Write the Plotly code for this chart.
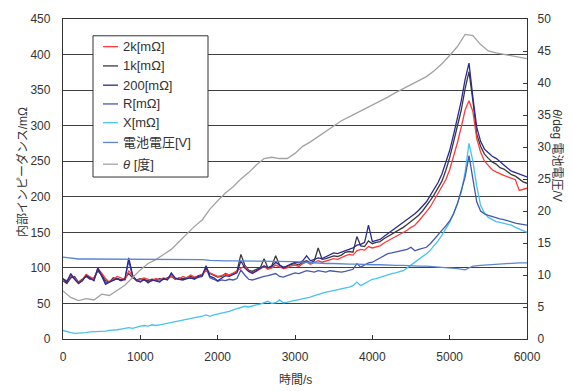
import plotly.graph_objects as go

# ---- data ----------------------------------------------------------------
time_s = list(range(0, 6001, 50))          # impedance sampling times [s]
time_coarse = list(range(0, 6001, 100))    # voltage / temperature sampling times [s]

z_2k = [84, 80, 90, 86, 79, 83, 91, 88, 84, 99, 93, 85, 80, 84, 88, 86, 83, 96, 88, 82,
        84, 86, 84, 82, 85, 83, 86, 84, 88, 85, 84, 88, 86, 90, 87, 88, 91, 96, 93, 90,
        88, 89, 91, 90, 92, 96, 100, 103, 96, 93, 95, 99, 102, 98, 100, 104, 101, 99, 100, 103,
        104, 102, 106, 108, 105, 107, 110, 108, 110, 112, 113, 112, 115, 117, 119, 118, 124, 126, 125, 130,
        128, 130, 131, 135, 138, 141, 143, 147, 150, 153, 157, 160, 166, 172, 179, 186, 195, 204, 213, 224,
        238, 256, 276, 298, 322, 335, 320, 282, 263, 250, 244, 238, 235, 232, 230, 228, 226, 224, 209, 210,
        212]

z_1k = [82, 78, 86, 88, 80, 84, 88, 84, 86, 96, 90, 82, 80, 86, 84, 83, 85, 92, 86, 83,
        85, 84, 82, 84, 83, 85, 84, 86, 88, 84, 86, 85, 87, 88, 86, 89, 90, 100, 92, 90,
        87, 88, 92, 90, 93, 95, 119, 104, 97, 95, 98, 100, 113, 100, 103, 117, 104, 101, 102, 105,
        106, 104, 108, 110, 107, 110, 128, 112, 113, 115, 117, 116, 118, 122, 123, 122, 144, 131, 130, 138,
        134, 136, 137, 141, 144, 147, 150, 153, 157, 161, 165, 169, 174, 180, 187, 195, 203, 212, 222, 237,
        255, 277, 300, 322, 352, 376, 335, 288, 271, 260, 254, 249, 246, 241, 239, 235, 231, 229, 225, 221,
        219]

z_200 = [85, 80, 92, 84, 78, 82, 89, 86, 82, 100, 88, 77, 80, 82, 85, 82, 84, 114, 90, 82,
         80, 84, 79, 83, 82, 80, 85, 83, 93, 86, 84, 83, 85, 86, 84, 88, 89, 103, 88, 86,
         82, 85, 89, 88, 90, 93, 110, 100, 95, 92, 96, 99, 103, 100, 102, 108, 104, 100, 103, 106,
         108, 107, 110, 117, 110, 112, 114, 113, 116, 118, 121, 120, 122, 124, 126, 128, 132, 133, 136, 160,
         137, 138, 140, 144, 148, 151, 155, 159, 163, 167, 171, 176, 181, 187, 193, 202, 211, 220, 232, 247,
         265, 287, 312, 335, 365, 388, 340, 298, 278, 267, 262, 257, 254, 249, 244, 240, 236, 234, 231, 229,
         228]

z_r = [84, 82, 88, 85, 80, 82, 90, 86, 83, 97, 90, 79, 81, 83, 85, 83, 84, 110, 88, 83,
       81, 83, 80, 82, 83, 81, 84, 84, 91, 85, 84, 84, 85, 86, 85, 87, 88, 100, 86, 84,
       81, 83, 82, 84, 83, 85, 97, 90, 84, 83, 85, 87, 88, 89, 91, 92, 88, 87, 89, 91,
       93, 92, 94, 96, 95, 94, 96, 95, 94, 96, 95, 94, 94, 95, 96, 98, 106, 101, 104, 107,
       108, 111, 114, 117, 120, 121, 122, 123, 124, 126, 129, 124, 126, 127, 129, 134, 140, 146, 152, 159,
       166, 176, 190, 208, 228, 258, 222, 193, 180, 176, 174, 172, 171, 169, 168, 166, 165, 163, 162, 161,
       160]

z_x = [12, 10, 9, 8, 8, 9, 9, 10, 10, 11, 10, 11, 12, 12, 13, 14, 15, 16, 15, 17,
       18, 19, 18, 20, 19, 20, 21, 22, 23, 24, 25, 26, 27, 28, 29, 31, 32, 34, 32, 34,
       35, 36, 38, 39, 41, 43, 44, 46, 45, 47, 48, 49, 51, 53, 50, 51, 55, 51, 52, 53,
       55, 56, 57, 58, 59, 61, 63, 64, 66, 67, 68, 69, 70, 71, 73, 75, 80, 75, 78, 82,
       84, 85, 87, 89, 90, 92, 93, 94, 96, 100, 104, 107, 111, 116, 120, 125, 131, 138, 146, 155,
       164, 176, 192, 206, 235, 275, 250, 215, 188, 177, 171, 168, 165, 164, 163, 162, 160, 157, 155, 152,
       150]

voltage_v = [12.8, 12.6, 12.5, 12.5, 12.5, 12.5, 12.5, 12.5, 12.5, 12.5,
             12.5, 12.5, 12.5, 12.5, 12.5, 12.5, 12.4, 12.4, 12.4, 12.3,
             12.2, 12.2, 12.2, 12.2, 12.2, 12.2, 12.2, 12.2, 12.2, 12.2,
             12.1, 12.0, 11.9, 11.8, 11.8, 11.8, 11.7, 11.7, 11.7, 11.6,
             11.6, 11.6, 11.5, 11.5, 11.5, 11.4, 11.4, 11.4, 11.3, 11.3,
             11.2, 11.0, 10.8, 11.4, 11.5, 11.6, 11.7, 11.8, 11.9, 11.9,
             11.9]

theta_deg = [7.5, 6.5, 6.0, 6.3, 6.1, 7.0, 6.8, 7.6, 8.4, 9.6,
             10.8, 11.8, 12.4, 13.2, 14.0, 15.2, 16.4, 17.6, 18.6, 20.3,
             21.6, 22.8, 23.8, 25.0, 26.0, 27.2, 28.2, 28.4, 28.2, 28.2,
             29.0, 30.1, 30.8, 31.6, 32.4, 33.3, 34.1, 34.7, 35.3, 35.9,
             36.6, 37.2, 37.8, 38.5, 39.1, 39.7, 40.3, 41.0, 41.9, 43.0,
             44.3, 45.7, 47.6, 47.4, 46.0, 45.0, 44.7, 44.5, 44.3, 44.1,
             43.8]

# ---- styling ---------------------------------------------------------------
W, H = 572, 391
ML, MR, MT, MB = 63, 45, 15, 52
FONT = "Liberation Sans, Noto Sans CJK JP, sans-serif"
TXT = "#333333"

series = [
    ("2k[mΩ]", time_s, z_2k, "#ff3b3b", "y"),
    ("1k[mΩ]", time_s, z_1k, "#3a3a3a", "y"),
    ("200[mΩ]", time_s, z_200, "#2a2a96", "y"),
    ("R[mΩ]", time_s, z_r, "#4658ae", "y"),
    ("X[mΩ]", time_s, z_x, "#48c2ee", "y"),
    ("電池電圧[V]", time_coarse, voltage_v, "#5a86d2", "y2"),
    ("<i>θ</i> [度]", time_coarse, theta_deg, "#a3a3a3", "y2"),
]

fig = go.Figure()
# temperature curve sits behind the impedance curves
draw_order = [6, 5, 4, 3, 1, 0, 2]
for k in draw_order:
    name, xs, ys, color, axis = series[k]
    fig.add_trace(go.Scatter(x=xs, y=ys, mode="lines", name=name, yaxis=axis,
                             line=dict(color=color, width=1.3), showlegend=False))


def px_x(p):
    return (p - ML) / (W - ML - MR)


def px_y(p):
    return (H - MB - p) / (H - MT - MB)


shapes = []
annotations = []

# legend box drawn by hand
shapes.append(dict(type="rect", xref="paper", yref="paper",
                   x0=px_x(93), x1=px_x(208), y0=px_y(175), y1=px_y(32),
                   line=dict(color="#333333", width=1), fillcolor="white", layer="above"))
row_y = [43, 62.5, 82, 101, 120, 140, 162]
for (name, _, _, color, _), ry in zip(series, row_y):
    shapes.append(dict(type="line", xref="paper", yref="paper",
                       x0=px_x(103), x1=px_x(118), y0=px_y(ry), y1=px_y(ry),
                       line=dict(color=color, width=1.3), layer="above"))
    annotations.append(dict(text=name, xref="paper", yref="paper", x=px_x(121), y=px_y(ry),
                            xanchor="left", yanchor="middle", showarrow=False,
                            font=dict(family=FONT, size=13, color=TXT)))

# axis titles
annotations.append(dict(text="内部インピーダンス/mΩ", xref="paper", yref="paper",
                        x=px_x(22), y=px_y(170), textangle=-90, showarrow=False,
                        xanchor="center", yanchor="middle",
                        font=dict(family=FONT, size=12, color=TXT)))
annotations.append(dict(text="<i>θ</i>/deg 電池電圧/V", xref="paper", yref="paper",
                        x=px_x(557), y=px_y(153), textangle=90, showarrow=False,
                        xanchor="center", yanchor="middle",
                        font=dict(family=FONT, size=12, color=TXT)))
annotations.append(dict(text="時間/s", xref="paper", yref="paper",
                        x=px_x(295), y=px_y(381), showarrow=False,
                        xanchor="center", yanchor="middle",
                        font=dict(family=FONT, size=12, color=TXT)))

fig.update_layout(
    width=W, height=H, autosize=False,
    margin=dict(l=ML, r=MR, t=MT, b=MB, pad=0),
    paper_bgcolor="white", plot_bgcolor="white",
    font=dict(family=FONT, size=12, color=TXT),
    showlegend=False,
    shapes=shapes, annotations=annotations,
    xaxis=dict(range=[0, 6000], dtick=1000, tick0=0, showgrid=False, zeroline=False,
               showline=True, linecolor="#333333", linewidth=1.3, mirror=True,
               ticks="inside", ticklen=4, tickcolor="#333333", ticklabelstandoff=6,
               tickfont=dict(size=12, color=TXT)),
    yaxis=dict(range=[0, 450], dtick=50, tick0=0, showgrid=True, gridcolor="#404040",
               gridwidth=1.3, zeroline=False, showline=True, linecolor="#333333",
               linewidth=1.3, ticks="", ticklabelstandoff=9,
               tickfont=dict(size=12, color=TXT)),
    yaxis2=dict(range=[0, 50], dtick=5, tick0=0, overlaying="y", side="right",
                showgrid=False, zeroline=False, showline=True, linecolor="#333333",
                linewidth=1.3, ticks="inside", ticklen=4, tickcolor="#333333",
                ticklabelstandoff=7, tickfont=dict(size=12, color=TXT)),
)

fig.write_html("out.html")
